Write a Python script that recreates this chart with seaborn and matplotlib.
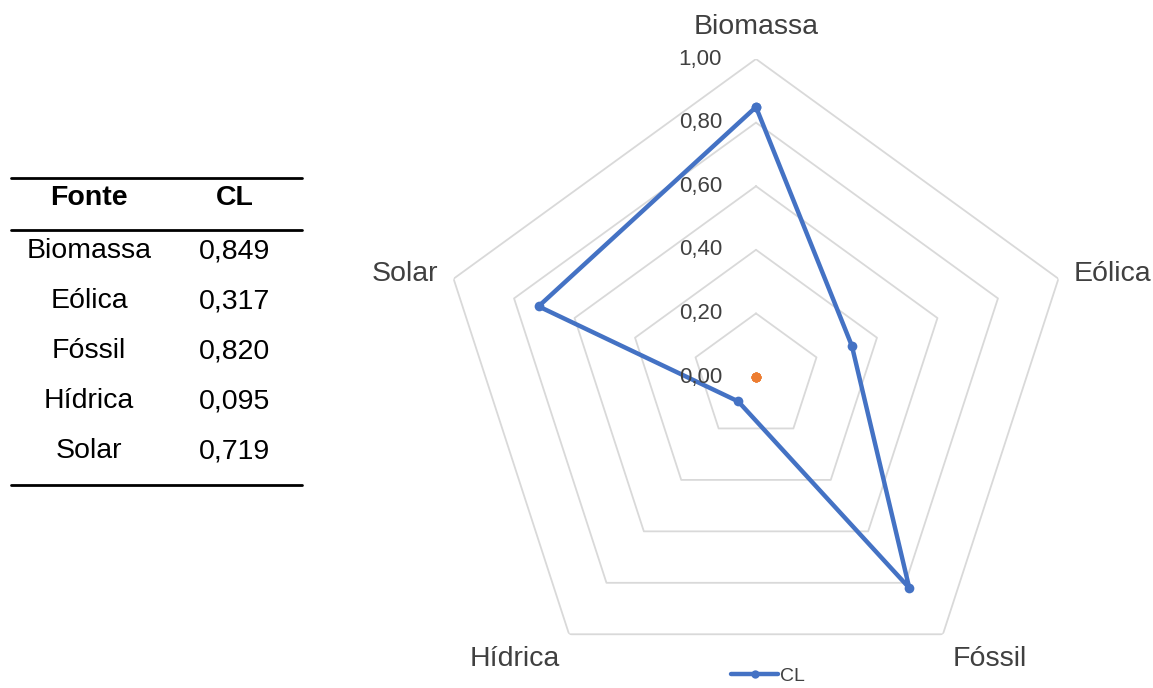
import numpy as np
import pandas as pd
import seaborn as sns
import matplotlib.pyplot as plt
from matplotlib.lines import Line2D
from matplotlib.transforms import ScaledTranslation

# dados
fontes = ['Biomassa', 'Eólica', 'Fóssil', 'Hídrica', 'Solar']
cl = [0.849, 0.317, 0.820, 0.095, 0.719]
cl_txt = ['0,849', '0,317', '0,820', '0,095', '0,719']
serie2 = [0, 0, 0, 0, 0]
niveis = [0.2, 0.4, 0.6, 0.8, 1.0]
niveis_txt = ['0,00', '0,20', '0,40', '0,60', '0,80', '1,00']

azul = '#4472C4'
laranja = '#ED7D31'
cinza = '#D9D9D9'

sns.set_style('white')
plt.rcParams['font.family'] = ['Liberation Sans', 'DejaVu Sans']

fig = plt.figure(figsize=(11.53, 6.88), dpi=100)

# ✅ Tabela (eixo em pixels)
ax_t = fig.add_axes([0, 0, 1, 1])
ax_t.set_xlim(0, 1153)
ax_t.set_ylim(688, 0)
ax_t.axis('off')
for y in [178, 230, 485]:
    ax_t.add_line(Line2D([11, 302], [y, y], color='black', lw=2.0))
ax_t.text(89, 198, 'Fonte', ha='center', va='center', fontsize=20.5, fontweight='bold', color='black')
ax_t.text(235, 198, 'CL', ha='center', va='center', fontsize=20.5, fontweight='bold', color='black')
for i, (f, v) in enumerate(zip(fontes, cl_txt)):
    ax_t.text(89, 251 + 50 * i, f, ha='center', va='center', fontsize=20.5, color='black')
    ax_t.text(235, 251 + 50 * i, v, ha='center', va='center', fontsize=20.5, color='black')

# ✅ Radar
ax = fig.add_axes([438 / 1153, -7 / 688, 636 / 1153, 636 / 688], projection='polar')
ax.set_theta_zero_location('N')
ax.set_theta_direction(-1)
ax.set_ylim(0, 1)
ax.grid(False)
ax.spines['polar'].set_visible(False)
ax.set_xticks([])
ax.set_yticks([])
ax.patch.set_alpha(0)

theta = np.linspace(0, 2 * np.pi, len(fontes), endpoint=False)
theta_f = np.append(theta, 2 * np.pi)

for r in niveis:
    ax.plot(theta_f, [r] * len(theta_f), color=cinza, lw=1.3, zorder=1)

df = pd.DataFrame({'theta': theta_f, 'cl': cl + cl[:1], 's2': serie2 + serie2[:1]})
sns.lineplot(data=df, x='theta', y='cl', sort=False, ax=ax, color=azul, lw=3.2,
             marker='o', markersize=7, markeredgewidth=0, zorder=3)
sns.lineplot(data=df, x='theta', y='s2', sort=False, ax=ax, color=laranja, lw=0,
             marker='o', markersize=7, markeredgewidth=0, zorder=4)
ax.set_xlabel('')
ax.set_ylabel('')

# rótulos do eixo radial
desloc = ScaledTranslation(-0.34, 0, fig.dpi_scale_trans)
for r, t in zip([0] + niveis, niveis_txt):
    ax.text(0, r, t, ha='right', va='center', fontsize=16, color='#404040',
            transform=ax.transData + desloc)

# rótulos das categorias
alinh = [('center', 'center', 1.1), ('left', 'center', 1.05),
         ('left', 'center', 1.05), ('right', 'center', 1.05), ('right', 'center', 1.05)]
for th, f, (ha, va, rr) in zip(theta, fontes, alinh):
    off = ScaledTranslation(0, -0.12 if f in ('Fóssil', 'Hídrica') else 0, fig.dpi_scale_trans)
    ax.text(th, rr, f, ha=ha, va=va, fontsize=20.5, color='#404040',
            transform=ax.transData + off, clip_on=False)

# legenda
h = Line2D([], [], color=azul, lw=3.2, marker='o', markersize=6, markeredgewidth=0)
fig.legend([h], ['CL'], loc='center', bbox_to_anchor=(768 / 1153, 1 - 676 / 688),
           frameon=False, fontsize=14, handlelength=2.4, handletextpad=0.1,
           labelcolor='#404040')

fig.savefig('out.png', dpi=100)
